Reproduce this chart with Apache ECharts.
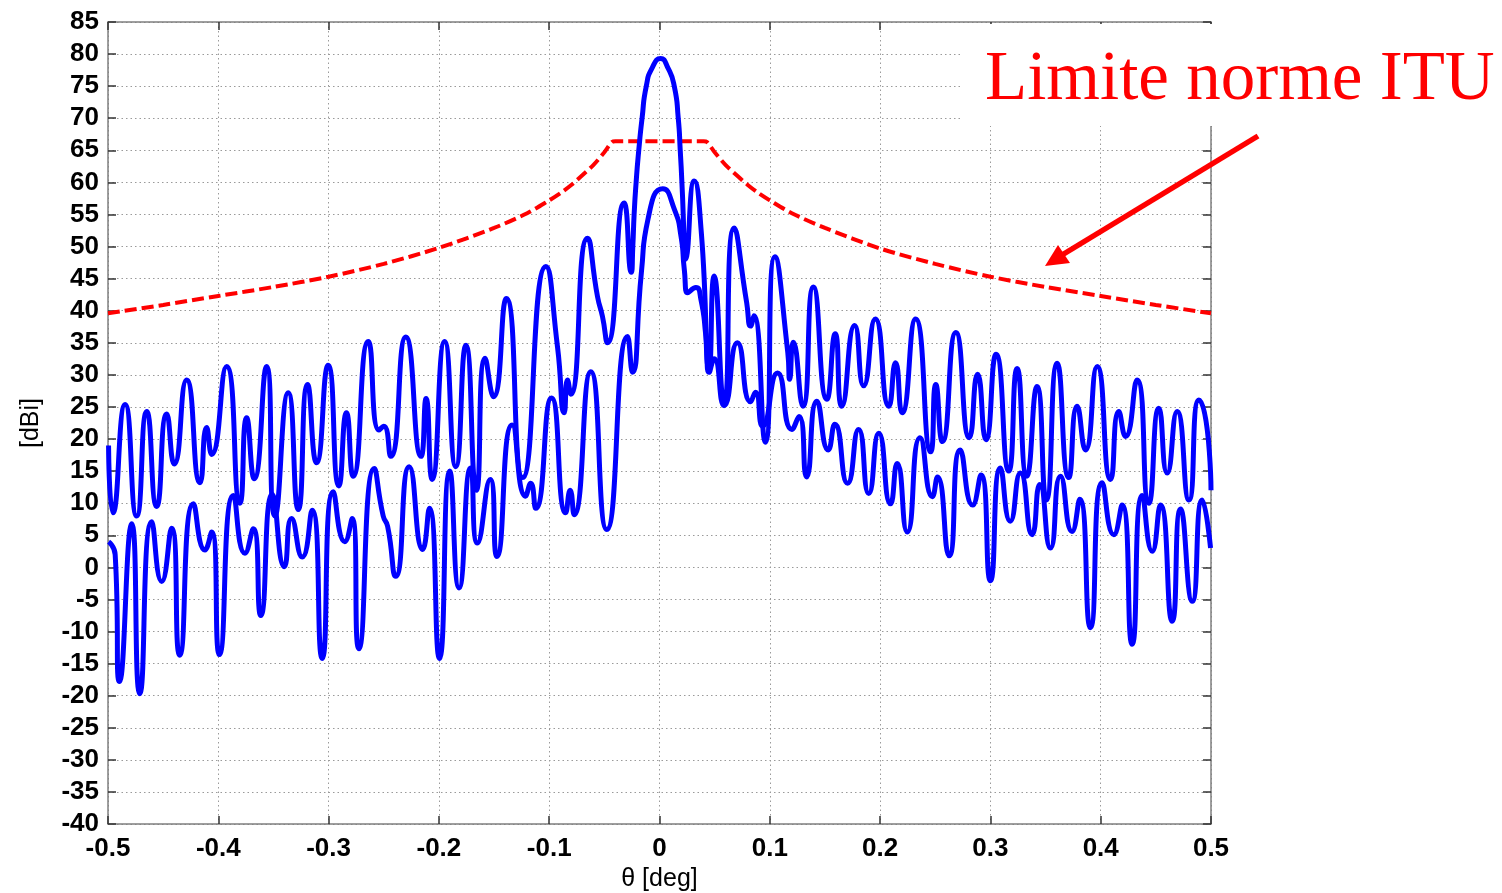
<!DOCTYPE html>
<html>
<head>
<meta charset="utf-8">
<script src="https://cdn.jsdelivr.net/npm/echarts@6/dist/echarts.min.js"></script>
<style>
  html, body { margin: 0; padding: 0; background: #ffffff; }
  #chart { width: 1502px; height: 893px; }
</style>
</head>
<body>
<div id="chart"></div>
<script>
// ---- Data ----
// X tick labels (theta, deg)
const xTickLabels = ['-0.5', '-0.4', '-0.3', '-0.2', '-0.1', '0', '0.1', '0.2', '0.3', '0.4', '0.5'];

// Pattern with the strongest main lobe (peak ~79 dBi) : [theta, dBi]
const patternMain = [
  [-0.4995, 19], [-0.4955, 8.5], [-0.4845, 25.4], [-0.474, 8], [-0.4649, 24.3], [-0.4559, 9.5],
  [-0.4468, 23.9], [-0.4399, 16.1], [-0.4287, 29.2], [-0.4166, 13.2], [-0.4106, 21.8], [-0.406, 17.6],
  [-0.3925, 31.3], [-0.3804, 10], [-0.3743, 23.3], [-0.3674, 13.8], [-0.3562, 31.3], [-0.3487, 8],
  [-0.3366, 27.2], [-0.3275, 9], [-0.3191, 28.5], [-0.3109, 16.3], [-0.3004, 31.5], [-0.2907, 12.7],
  [-0.2838, 24.1], [-0.2777, 14.2], [-0.2641, 35.2], [-0.2544, 21.4], [-0.25, 22], [-0.2437, 17.3],
  [-0.23, 35.9], [-0.2162, 17.3], [-0.2116, 26.3], [-0.2061, 13.7], [-0.1948, 35.2], [-0.1847, 15.7],
  [-0.1755, 34.6], [-0.166, 12], [-0.1581, 32.6], [-0.1505, 26.6], [-0.1388, 41.9], [-0.124, 14],
  [-0.103, 46.9], [-0.0925, 34.4], [-0.0864, 24.1], [-0.0834, 29.2], [-0.0805, 27], [-0.0653, 51.3],
  [-0.0562, 42.2], [-0.0517, 39.1], [-0.0472, 35], [-0.0321, 56.8], [-0.0256, 46], [-0.0242, 50],
  [-0.023, 55], [-0.0212, 60], [-0.0188, 65], [-0.0158, 70], [-0.012, 75], [-0.0065, 77.9],
  [0.001, 79.3], [0.0075, 77.9], [0.0134, 75], [0.017, 70], [0.0188, 65], [0.0203, 60], [0.0215, 55],
  [0.0224, 50], [0.0232, 48], [0.0315, 60.2], [0.038, 52], [0.045, 31], [0.0495, 45.4],
  [0.0586, 25.5], [0.0676, 52.9], [0.079, 41.3], [0.0826, 37.6], [0.0856, 39.2], [0.096, 19.5],
  [0.1046, 48.4], [0.1163, 33.5], [0.118, 29.3], [0.1213, 35.1], [0.13, 25.1], [0.1395, 43.7],
  [0.1517, 26.2], [0.1593, 36.4], [0.1653, 25.1], [0.1769, 37.7], [0.1851, 28.3], [0.1957, 38.7],
  [0.2079, 25.1], [0.214, 31.9], [0.22, 24.1], [0.2322, 38.7], [0.2459, 18], [0.2505, 28.5],
  [0.2565, 19.6], [0.2687, 36.6], [0.2809, 20.2], [0.2884, 30.1], [0.296, 19.9], [0.3052, 33.2],
  [0.3166, 15], [0.3242, 31], [0.333, 14.2], [0.3423, 28.2], [0.3508, 10.5], [0.3605, 31.8],
  [0.371, 14], [0.3786, 25.1], [0.3862, 18.3], [0.3968, 31.3], [0.4089, 13.7], [0.4164, 24.3],
  [0.4225, 20.4], [0.433, 29.2], [0.4436, 10], [0.4527, 24.8], [0.4603, 14.7], [0.4693, 24.3],
  [0.48, 10.5], [0.489, 26.1], [0.4985, 18], [0.5, 12]
];

// Pattern with the lower main lobe (peak ~59 dBi) : [theta, dBi]
const patternSecond = [
  [-0.4995, 4], [-0.4935, 2], [-0.4895, -17.8], [-0.4785, 6.8], [-0.4712, -19.7], [-0.4604, 7.1],
  [-0.4513, -2.2], [-0.4423, 6.1], [-0.435, -13.7], [-0.4226, 9.9], [-0.4121, 2.7], [-0.406, 5.5],
  [-0.399, -13.6], [-0.3864, 11.2], [-0.3758, 2.2], [-0.3683, 6], [-0.3615, -7.5], [-0.3511, 11.4],
  [-0.3402, 0.1], [-0.3336, 7.6], [-0.3239, 1.6], [-0.3149, 8.9], [-0.3058, -14.2], [-0.2958, 11.8],
  [-0.2853, 4], [-0.2786, 7.6], [-0.2726, -12.7], [-0.2587, 15.4], [-0.2505, 8], [-0.2465, 6.4],
  [-0.2391, -1.4], [-0.2269, 15.7], [-0.2147, 2.8], [-0.2086, 9.2], [-0.1995, -14.2], [-0.1902, 15],
  [-0.1817, -3.2], [-0.1713, 15.5], [-0.1651, 3.8], [-0.1535, 13.7], [-0.1474, 1.7], [-0.1336, 22.2],
  [-0.1214, 11.1], [-0.1168, 13.1], [-0.1122, 9.2], [-0.0979, 26.4], [-0.085, 8.5], [-0.081, 12],
  [-0.0774, 8.2], [-0.0623, 30.5], [-0.0478, 5.9], [-0.029, 36], [-0.0245, 30.4], [-0.0164, 46],
  [-0.0104, 54.3], [0.003, 59], [0.0135, 55.8], [0.0195, 51.6], [0.0225, 46.4], [0.0255, 42.8],
  [0.033, 43.6], [0.0375, 41.8], [0.042, 36.1], [0.045, 30.4], [0.0495, 32.5], [0.0586, 25.2],
  [0.0706, 35], [0.0826, 25.8], [0.087, 27.3], [0.0935, 22], [0.107, 30.3], [0.12, 21.5],
  [0.1265, 23.5], [0.1334, 14.1], [0.1426, 25.9], [0.153, 18.3], [0.159, 22.3], [0.1705, 13.1],
  [0.1805, 21.5], [0.1897, 11.5], [0.1988, 20.9], [0.2094, 9.9], [0.2155, 16.2], [0.2246, 5.5],
  [0.2362, 20.2], [0.2474, 11], [0.252, 14.1], [0.2626, 1.8], [0.2726, 18.3], [0.2839, 9.7],
  [0.2915, 14.4], [0.3, -2.1], [0.309, 15.5], [0.318, 7.2], [0.3272, 14.7], [0.3378, 5.1],
  [0.3448, 12.9], [0.3544, 3], [0.3635, 14.2], [0.374, 5.6], [0.381, 10.6], [0.3907, -9.4],
  [0.4013, 13.2], [0.4119, 5.1], [0.4194, 9.7], [0.4285, -12], [0.4376, 11.2], [0.4467, 2.5],
  [0.4542, 9.7], [0.4648, -8.4], [0.4724, 9.1], [0.483, -5.3], [0.492, 10.5], [0.4996, 3]
];

// ITU limit (red dashed mask) : [theta, dBi]
const ituLimit = [
  [-0.5, 39.6], [-0.45, 40.9], [-0.4, 42.3], [-0.35, 43.7], [-0.3, 45.3], [-0.25, 47.3],
  [-0.2, 49.8], [-0.15, 52.9], [-0.12, 55.2], [-0.1, 57.2], [-0.09, 58.3], [-0.08, 59.6],
  [-0.07, 61.1], [-0.06, 62.7], [-0.05, 64.7], [-0.043, 66.3], [-0.04, 66.4], [0.04, 66.4],
  [0.043, 66.3], [0.05, 64.7], [0.06, 62.7], [0.07, 61.1], [0.08, 59.6], [0.09, 58.3],
  [0.1, 57.2], [0.12, 55.2], [0.15, 52.9], [0.2, 49.7], [0.25, 47.3], [0.3, 45.3],
  [0.35, 43.7], [0.4, 42.3], [0.45, 40.9], [0.5, 39.6]
];

const annotationText = 'Limite norme ITU';
const xAxisName = '\u03b8 [deg]';
const yAxisName = '[dBi]';

// ---- Chart ----
const chart = echarts.init(document.getElementById('chart'), null, { renderer: 'canvas' });

const gridLine = { show: true, lineStyle: { color: '#9a9a9a', width: 1, type: [1.5, 3] } };
const axisLineStyle = { show: true, onZero: false, lineStyle: { color: '#7f7f7f', width: 1.5 } };
const tickStyle = { show: true, inside: true, length: 8, lineStyle: { color: '#333', width: 1.5 } };
const labelFont = { color: '#000', fontSize: 26, fontWeight: 'bold', fontFamily: 'Liberation Sans, Arial, sans-serif' };

const option = {
  animation: false,
  backgroundColor: '#ffffff',
  grid: { left: 108, right: 291, top: 22, bottom: 69, containLabel: false, outerBoundsMode: 'none' },
  xAxis: [
    {
      type: 'value', min: -0.5, max: 0.5, interval: 0.1, position: 'bottom',
      name: xAxisName, nameLocation: 'middle', nameGap: 43,
      nameTextStyle: { color: '#000', fontSize: 25, fontFamily: 'Liberation Sans, Arial, sans-serif' },
      axisLine: axisLineStyle, axisTick: tickStyle, splitLine: gridLine,
      axisLabel: Object.assign({ margin: 12, formatter: v => xTickLabels[Math.round(v * 10) + 5] }, labelFont)
    },
    {
      type: 'value', min: -0.5, max: 0.5, interval: 0.1, position: 'top',
      axisLine: axisLineStyle, axisTick: tickStyle, splitLine: { show: false }, axisLabel: { show: false }
    }
  ],
  yAxis: [
    {
      type: 'value', min: -40, max: 85, interval: 5, position: 'left',
      name: yAxisName, nameLocation: 'middle', nameGap: 64, nameRotate: 90,
      nameTextStyle: { color: '#000', fontSize: 25, fontFamily: 'Liberation Sans, Arial, sans-serif' },
      axisLine: axisLineStyle, axisTick: tickStyle, splitLine: gridLine,
      axisLabel: Object.assign({ margin: 9 }, labelFont)
    },
    {
      type: 'value', min: -40, max: 85, interval: 5, position: 'right',
      axisLine: axisLineStyle, axisTick: tickStyle, splitLine: { show: false }, axisLabel: { show: false }
    }
  ],
  series: [
    {
      name: 'ITU', type: 'line', data: ituLimit, showSymbol: false, smooth: 0.3, z: 2,
      lineStyle: { color: '#ff0000', width: 4, type: [12, 5] }
    },
    {
      name: 'main', type: 'line', data: patternMain, showSymbol: false, smooth: 0.6, z: 3,
      lineStyle: { color: '#0000ff', width: 5 }
    },
    {
      name: 'second', type: 'line', data: patternSecond, showSymbol: false, smooth: 0.6, z: 3,
      lineStyle: { color: '#0000ff', width: 5 }
    }
  ],
  graphic: [
    { type: 'rect', shape: { x: 962, y: 24, width: 540, height: 102 }, style: { fill: '#ffffff' }, z: 100 },
    { type: 'text', x: 985, y: 46, z: 101,
      style: { text: annotationText, fill: '#ff0000', font: '69px "Liberation Serif", "Times New Roman", serif',
               textAlign: 'left', textVerticalAlign: 'top' } },
    { type: 'line', z: 101, shape: { x1: 1258, y1: 136, x2: 1062, y2: 255 },
      style: { stroke: '#ff0000', lineWidth: 5.5 } },
    { type: 'polygon', z: 101, shape: { points: [[1045, 266], [1070, 263], [1058, 245]] },
      style: { fill: '#ff0000' } }
  ]
};

chart.setOption(option);
</script>
</body>
</html>
